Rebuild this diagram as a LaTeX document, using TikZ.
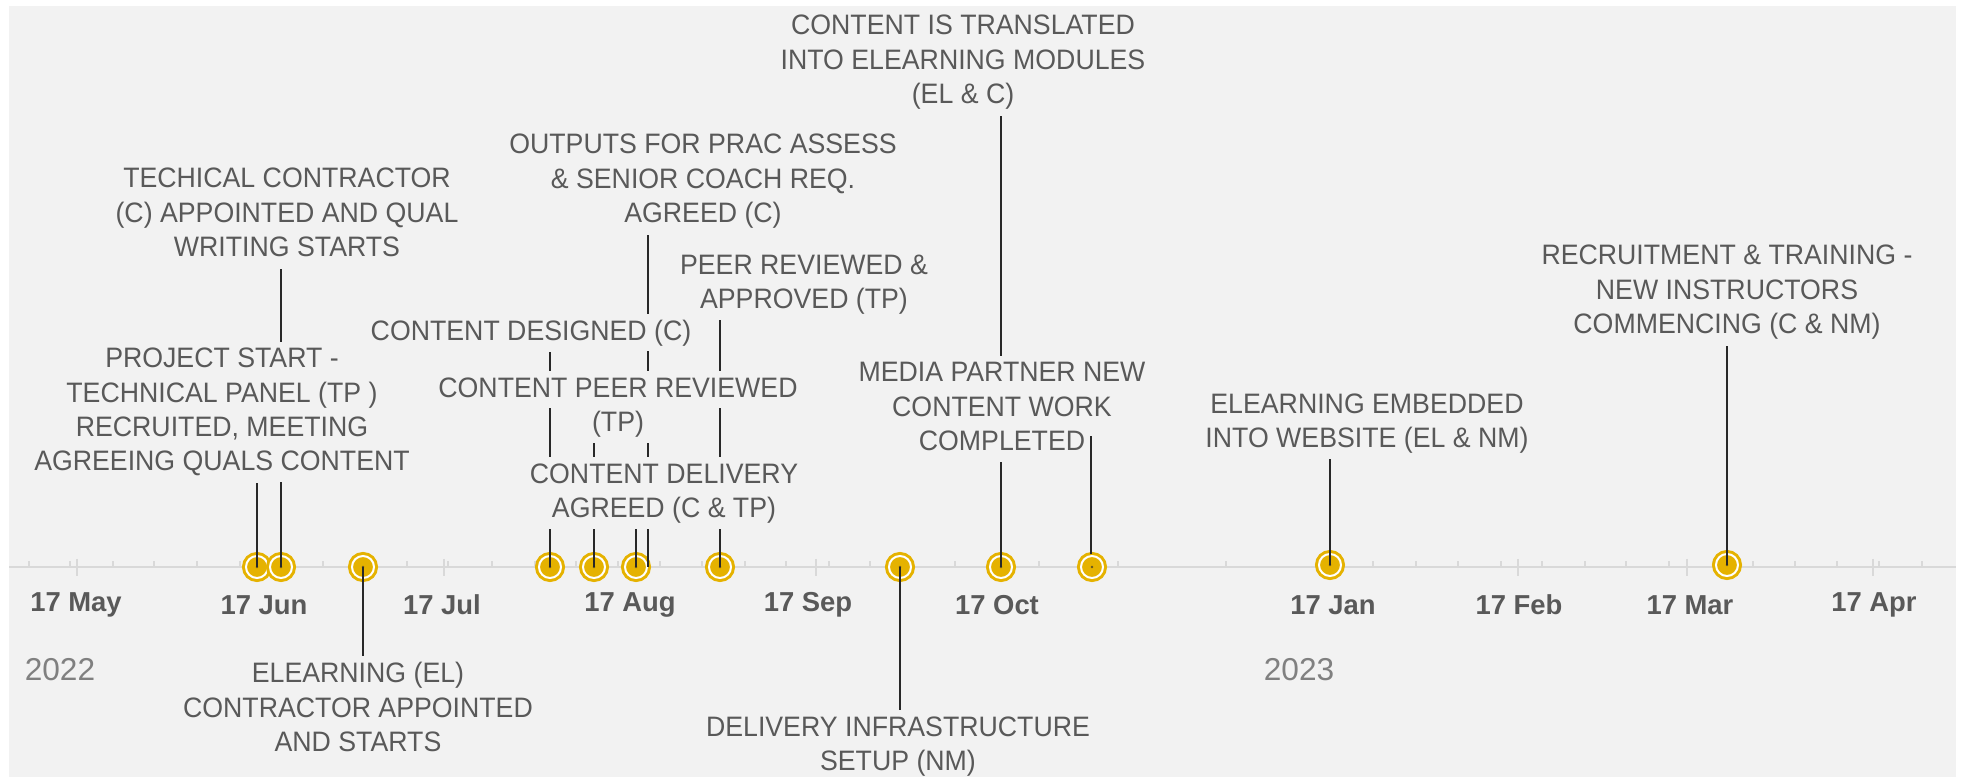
\documentclass[tikz,border=0pt]{standalone}
\usepackage{fontspec}
\setmainfont{Liberation Sans}
\newfontfamily\lblfont[FakeStretch=0.95]{Liberation Sans}
\usetikzlibrary{calc}
\definecolor{chartbg}{RGB}{242,242,242}
\definecolor{axisgray}{RGB}{217,217,217}
\definecolor{lblgray}{RGB}{89,89,89}
\definecolor{yeargray}{RGB}{128,128,128}
\definecolor{mkgold}{RGB}{229,178,0}
\definecolor{mkdot}{RGB}{100,85,30}
\definecolor{linkgray}{RGB}{40,40,40}
\setlength{\fboxsep}{1.5pt}
\setlength{\lineskiplimit}{-20pt}
% one line of a label, on the chart colour so that it hides the links
\newcommand{\bgl}[1]{\colorbox{chartbg}{\rule[-0.21em]{0pt}{0.94em}#1}}
\pgfdeclarelayer{back}
\pgfdeclarelayer{links}
\pgfsetlayers{back,links,main}
\tikzset{
  event/.style={font=\lblfont\fontsize{8}{9.8}\selectfont, text=lblgray, align=center, inner sep=0pt},
  datelbl/.style={font=\fontsize{7.8}{9}\selectfont\bfseries, text=lblgray, inner sep=0pt},
  yearlbl/.style={font=\fontsize{9}{11}\selectfont, text=yeargray, inner sep=0pt},
  milestone/.style={circle, inner sep=0pt, minimum size=2.2mm, fill=mkgold, draw=mkgold,
    line width=0.3mm, double=white, double distance=0.2mm,
    path picture={\fill[mkdot] (path picture bounding box.center) circle (0.13mm);}},
  link/.style={draw=linkgray, line width=0.15mm},
  tickline/.style={draw=axisgray, line width=0.2mm}
}

\begin{document}
\begin{tikzpicture}[x=0.1mm, y=-0.1mm]
\useasboundingbox (0,0) rectangle (1963,777);
%%
\begin{pgfonlayer}{back}
\fill[white] (0,0) rectangle (1963,777);
\fill[chartbg] (9,6) rectangle (1956,777);
%% axis and ticks
\draw[axisgray, line width=0.25mm] (9,567) -- (1956,567);
\foreach \x in {29,70,113,154,197,240,282,323,365,407,448,492,535,576,618,660,702,745,786,829,870,912,955,997,1039,1118,1226,1331,1373,1416,1458,1501,1542,1585,1626,1669,1713,1753,1795,1837,1879,1922}
  \draw[tickline] (\x,567) -- ++(0,-6);
\foreach \x in {77,263,444,632,816,998,1333,1518,1687,1873}
  \draw[tickline] (\x,559) -- (\x,576);
%% milestones
\node[milestone] (mStart) at (257,567) {};
\node[milestone] (mTech) at (281,567) {};
\node[milestone] (mElearn) at (363,567) {};
\node[milestone] (mDesign) at (550,567) {};
\node[milestone] (mPeer) at (594,567) {};
\node[milestone] (mDeliv) at (636,567) {};
\node[milestone] (mApprove) at (720,567) {};
\node[milestone] (mInfra) at (900,567) {};
\node[milestone] (mTrans) at (1001,567) {};
\node[milestone] (mMedia) at (1092,567) {};
\node[milestone] (mEmbed) at (1330,565) {};
\node[milestone] (mRecruit) at (1727,565) {};
\end{pgfonlayer}
%% axis labels
\node[datelbl] (may) at (76,605) {17 May};
\node[datelbl] (jun) at (264,605) {17 Jun};
\node[datelbl] (jul) at (442,605) {17 Jul};
\node[datelbl] (aug) at (630,605) {17 Aug};
\node[datelbl] (sep) at (808,605) {17 Sep};
\node[datelbl] (oct) at (997,605) {17 Oct};
\node[datelbl] (jan) at (1333,605) {17 Jan};
\node[datelbl] (feb) at (1519,605) {17 Feb};
\node[datelbl] (mar) at (1690,605) {17 Mar};
\node[datelbl] (apr) at (1874,605) {17 Apr};
\node[yearlbl] (y22) at (60,670) {2022};
\node[yearlbl] (y23) at (1299,670) {2023};
%% events, 2022
\node[event] (start) at (222,412) {\bgl{PROJECT START -}\\\bgl{TECHNICAL PANEL (TP )}\\\bgl{RECRUITED, MEETING}\\\bgl{AGREEING QUALS CONTENT}};
\node[event] (tech) at (287,215) {\bgl{TECHICAL CONTRACTOR}\\\bgl{(C) APPOINTED AND QUAL}\\\bgl{WRITING STARTS}};
\node[event] (elearn) at (358,710) {\bgl{ELEARNING (EL)}\\\bgl{CONTRACTOR APPOINTED}\\\bgl{AND STARTS}};
\node[event] (design) at (531,333) {\bgl{CONTENT DESIGNED (C)}};
\node[event] (peer) at (618,407) {\bgl{CONTENT PEER REVIEWED}\\\bgl{(TP)}};
\node[event] (deliv) at (664,493) {\bgl{CONTENT DELIVERY}\\\bgl{AGREED (C \& TP)}};
\node[event] (outputs) at (703,181) {\bgl{OUTPUTS FOR PRAC ASSESS}\\\bgl{\& SENIOR COACH REQ.}\\\bgl{AGREED (C)}};
\node[event] (approve) at (804,284) {\bgl{PEER REVIEWED \&}\\\bgl{APPROVED (TP)}};
\node[event] (infra) at (898,746) {\bgl{DELIVERY INFRASTRUCTURE}\\\bgl{SETUP (NM)}};
\node[event] (trans) at (963,62) {\bgl{CONTENT IS TRANSLATED}\\\bgl{INTO ELEARNING MODULES}\\\bgl{(EL \& C)}};
\node[event] (media) at (1002,409) {\bgl{MEDIA PARTNER NEW}\\\bgl{CONTENT WORK}\\\bgl{COMPLETED}};
%% events, 2023
\node[event] (embed) at (1367,423) {\bgl{ELEARNING EMBEDDED}\\\bgl{INTO WEBSITE (EL \& NM)}};
\node[event] (recruit) at (1727,292) {\bgl{RECRUITMENT \& TRAINING -}\\\bgl{NEW INSTRUCTORS}\\\bgl{COMMENCING (C \& NM)}};
%% links
\coordinate (cOutputs) at (648,567);
\coordinate (cMedia) at (1091,436);
\begin{pgfonlayer}{links}
\draw[link] (mStart.center) -- (mStart |- start.south);
\draw[link] (mTech.center) -- (mTech |- tech.south);
\draw[link] (mElearn.center) -- (mElearn |- elearn.north);
\draw[link] (mDesign.center) -- (mDesign |- design.south);
\draw[link] (mPeer.center) -- (mPeer |- peer.south);
\draw[link] (mDeliv.center) -- (mDeliv |- deliv.south);
\draw[link] (cOutputs) -- (cOutputs |- outputs.south);
\draw[link] (mApprove.center) -- (mApprove |- approve.south);
\draw[link] (mInfra.center) -- (mInfra |- infra.north);
\draw[link] (mTrans.center) -- (mTrans |- trans.south);
\draw[link] (mEmbed.center) -- (mEmbed |- embed.south);
\draw[link] (mRecruit.center) -- (mRecruit |- recruit.south);
\end{pgfonlayer}
\draw[link] (cMedia |- mMedia.north) -- (cMedia);
\end{tikzpicture}
\end{document}
